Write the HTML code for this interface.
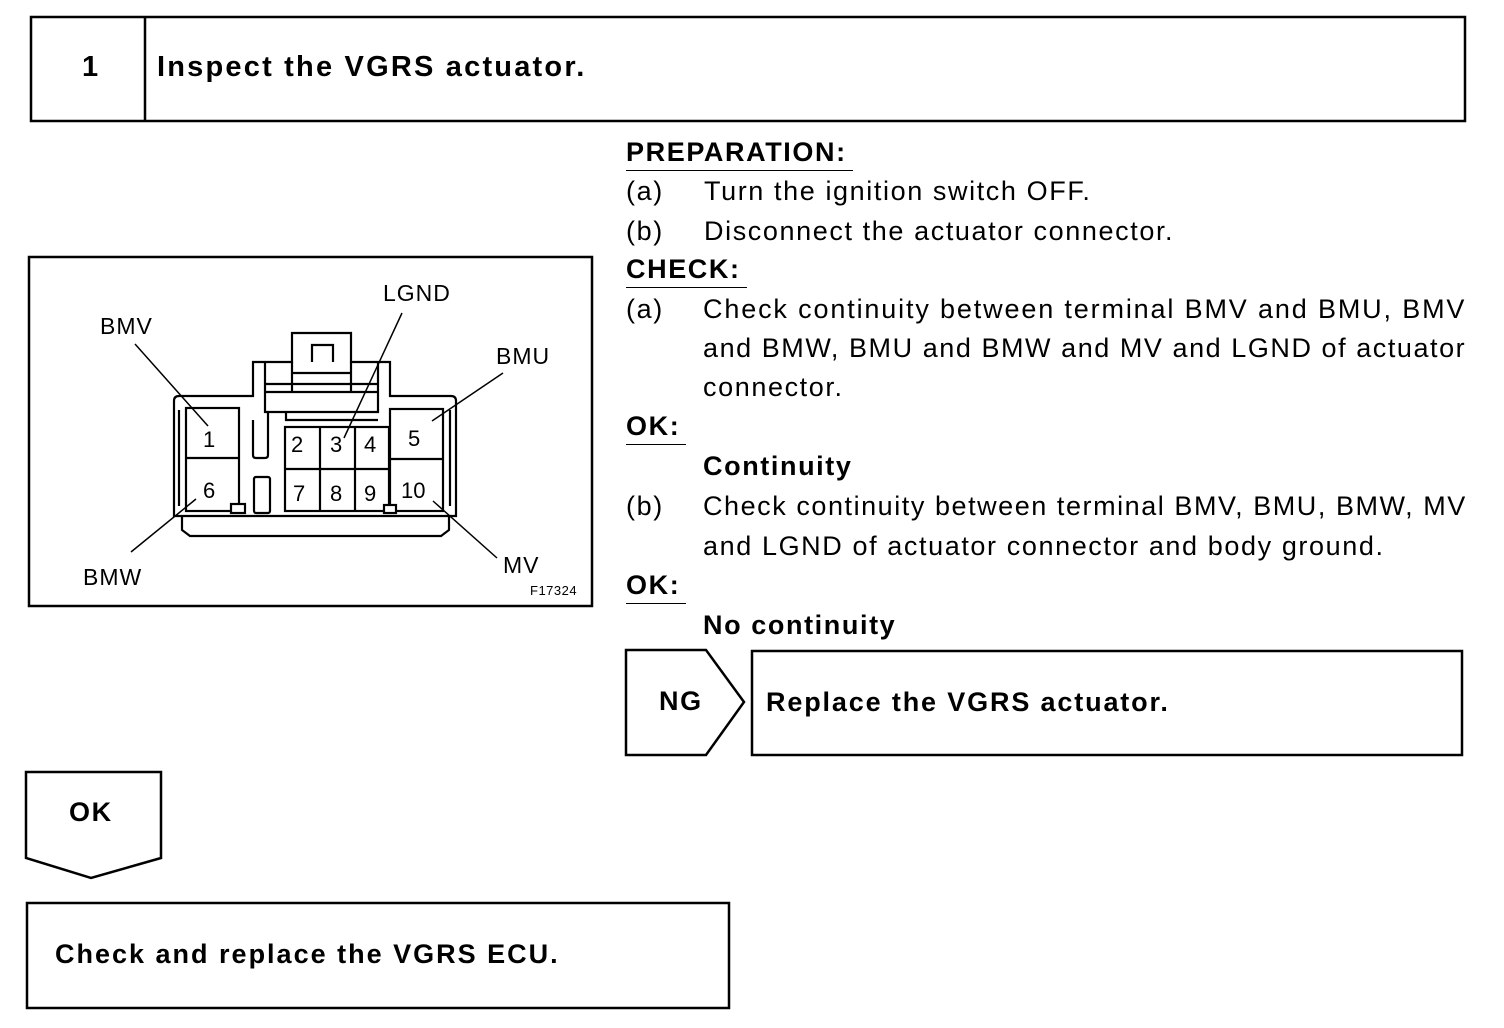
<!DOCTYPE html>
<html><head><style>
body{margin:0;width:1504px;height:1028px;background:#fff;position:relative;overflow:hidden;font-family:"Liberation Sans",Arial,sans-serif;color:#000}
.t{position:absolute;font-size:27px;line-height:30px;white-space:nowrap;letter-spacing:1.6px}
.b{font-weight:bold}
.u{border-bottom:1.5px solid #000;padding-bottom:3px;padding-right:6px}
.l{font-size:23px;letter-spacing:1px}
.n{font-size:22px;letter-spacing:0}
</style></head><body>
<svg width="1504" height="1028" style="position:absolute;left:0;top:0" fill="none" stroke="#000">
<rect x="31" y="17" width="1434" height="104" stroke-width="2.5"/>
<line x1="145" y1="17" x2="145" y2="121" stroke-width="2.5"/>
<rect x="29" y="257" width="563" height="349" stroke-width="2.5"/>
<g stroke-width="2.2">
<path d="M174 516 V401 Q174 396 179 396 H253 V362 H292 V333 H351 V362 H390 V396 H451 Q456 396 456 401 V516 Z"/>
<path d="M182 516 V530 L190 536 H441 L449 530 V516"/>
<path d="M312 362 V345 H333 V362"/>
<line x1="292" y1="362" x2="292" y2="392"/><line x1="351" y1="362" x2="351" y2="392"/>
<line x1="292" y1="373" x2="351" y2="373"/>
<line x1="265" y1="384" x2="378" y2="384"/>
<path d="M265 362 V412 H378 V362"/>
<line x1="265" y1="392" x2="378" y2="392"/>
<path d="M286 412 V420 H378"/>
<rect x="186" y="408" width="53" height="103"/><line x1="186" y1="458" x2="239" y2="458"/>
<rect x="285" y="427" width="104" height="84"/>
<line x1="285" y1="469" x2="389" y2="469"/><line x1="320" y1="427" x2="320" y2="511"/><line x1="355" y1="427" x2="355" y2="511"/>
<rect x="390" y="409" width="53" height="102"/><line x1="390" y1="459" x2="443" y2="459"/>
<path d="M253 420 L253 455 Q253 458 256 458 H265 Q268 458 268 455 V412"/>
<rect x="254" y="477" width="16" height="36" rx="2"/>
<line x1="179" y1="410" x2="179" y2="506"/><line x1="450" y1="410" x2="450" y2="506"/>
<rect x="231" y="504" width="14" height="9" fill="#fff"/>
<rect x="384" y="505" width="12" height="8" fill="#fff"/>
</g>
<g stroke-width="1.5">
<line x1="135" y1="344" x2="208" y2="426"/>
<line x1="402" y1="313" x2="344" y2="438"/>
<line x1="503" y1="373" x2="432" y2="421"/>
<line x1="196" y1="499" x2="131" y2="552"/>
<line x1="433" y1="501" x2="497" y2="558"/>
</g>
<path d="M626 650 H706 L744 702 L706 755 H626 Z" stroke-width="2.5"/>
<rect x="752" y="651" width="710" height="104" stroke-width="2.5"/>
<path d="M26 772 H161 V858 L91 878 L26 858 Z" stroke-width="2.5"/>
<rect x="27" y="903" width="702" height="105" stroke-width="2.5"/>
</svg>
<div class="t n" style="left:203px;top:425px">1</div>
<div class="t n" style="left:203px;top:476px">6</div>
<div class="t n" style="left:291px;top:430px">2</div>
<div class="t n" style="left:330px;top:430px">3</div>
<div class="t n" style="left:364px;top:430px">4</div>
<div class="t n" style="left:408px;top:424px">5</div>
<div class="t n" style="left:293px;top:479px">7</div>
<div class="t n" style="left:330px;top:479px">8</div>
<div class="t n" style="left:364px;top:479px">9</div>
<div class="t n" style="left:401px;top:476px">10</div>
<div class="t l" style="left:100px;top:311px">BMV</div>
<div class="t l" style="left:383px;top:278px">LGND</div>
<div class="t l" style="left:496px;top:341px">BMU</div>
<div class="t l" style="left:83px;top:562px">BMW</div>
<div class="t l" style="left:503px;top:550px">MV</div>
<div class="t" style="font-size:13px;letter-spacing:0.5px;left:530px;top:583px;line-height:16px">F17324</div>

<div class="t b" style="font-size:29px;letter-spacing:2.2px;left:82px;top:52px">1</div>
<div class="t b" style="font-size:29px;letter-spacing:2.2px;left:157px;top:52px">Inspect the VGRS actuator.</div>

<div class="t b u" style="left:626px;top:137px">PREPARATION:</div>
<div class="t" style="left:626px;top:176px">(a)</div><div class="t" style="left:704px;top:176px">Turn the ignition switch OFF.</div>
<div class="t" style="left:626px;top:216px">(b)</div><div class="t" style="left:704px;top:216px">Disconnect the actuator connector.</div>
<div class="t b u" style="left:626px;top:254px">CHECK:</div>
<div class="t" style="left:626px;top:294px">(a)</div>
<div class="t" style="left:703px;top:294px;letter-spacing:1.85px">Check continuity between terminal BMV and BMU, BMV</div>
<div class="t" style="left:703px;top:333px;letter-spacing:1.55px">and BMW, BMU and BMW and MV and LGND of actuator</div>
<div class="t" style="left:703px;top:372px">connector.</div>
<div class="t b u" style="left:626px;top:411px">OK:</div>
<div class="t b" style="left:703px;top:451px">Continuity</div>
<div class="t" style="left:626px;top:491px">(b)</div>
<div class="t" style="left:703px;top:491px;letter-spacing:1.55px">Check continuity between terminal BMV, BMU, BMW, MV</div>
<div class="t" style="left:703px;top:531px">and LGND of actuator connector and body ground.</div>
<div class="t b u" style="left:626px;top:570px">OK:</div>
<div class="t b" style="left:703px;top:610px">No continuity</div>

<div class="t b" style="left:659px;top:686px">NG</div>
<div class="t b" style="letter-spacing:1.85px;left:766px;top:687px">Replace the VGRS actuator.</div>
<div class="t b" style="left:69px;top:797px">OK</div>
<div class="t b" style="letter-spacing:2.0px;left:55px;top:939px">Check and replace the VGRS ECU.</div>
</body></html>
